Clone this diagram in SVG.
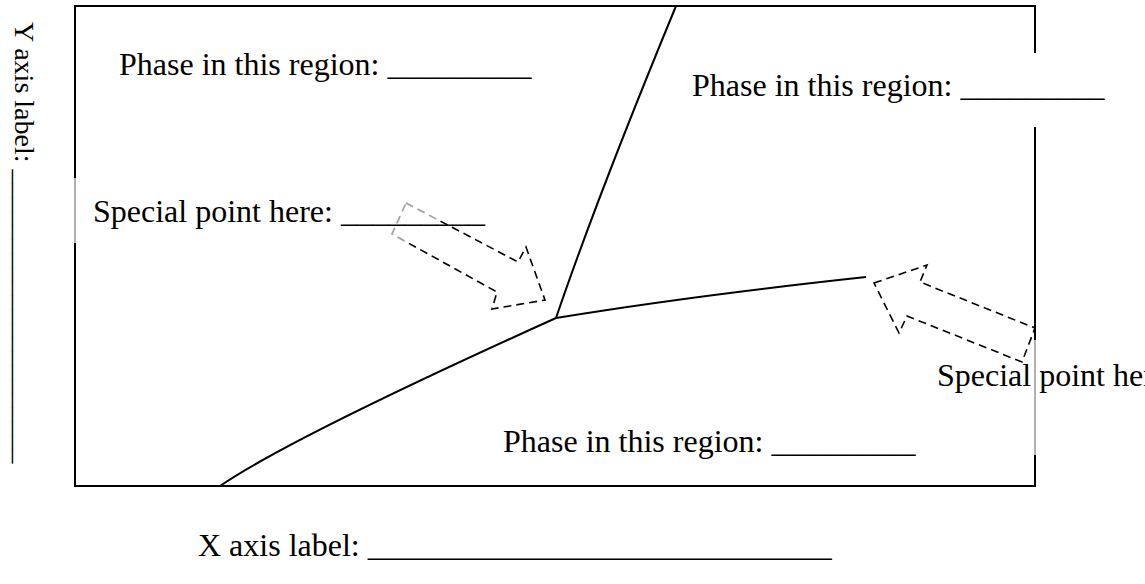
<svg xmlns="http://www.w3.org/2000/svg" width="1145" height="584" viewBox="0 0 1145 584">
<defs>
<style>
.t{font-family:"Liberation Serif","Times New Roman",serif;font-size:32px;fill:#000}
.ty{font-family:"Liberation Serif","Times New Roman",serif;font-size:28px;fill:#000}
.frame{stroke:#000;stroke-width:2;fill:none}
.frameg{stroke:#b0b0b0;stroke-width:2;fill:none}
.curve{stroke:#000;stroke-width:2;fill:none}
.arrow{stroke:#000;stroke-width:1.6;fill:none;stroke-dasharray:8 5}
.arrowg{stroke:#a0a0a0;stroke-width:1.6;fill:none;stroke-dasharray:8 5}
</style>
<clipPath id="fadeClip"><rect x="380" y="190" width="60" height="52"/></clipPath>
</defs>
<rect width="1145" height="584" fill="#fff"/>
<g id="frame">
<path class="frame" d="M75,178 V6 H1035 V53 M1035,127 V340 M1035,455 V486 H75 V243"/>
<path class="frameg" d="M75,178 V243 M1035,340 V455"/>
</g>
<g id="connectors">
<path class="curve" d="M220,486 Q290,438 556,318"/>
<path class="curve" d="M556,318 Q598,195 676,6"/>
<path class="curve" d="M556,318 Q690,296 866,277"/>
</g>
<g id="arrow-left">
<path class="arrow" d="M406,203 L518,262 L526,247 L545,300 L492,309 L497,292 L392,234 Z"/>
<path d="M406,203 L518,262 L526,247 L545,300 L492,309 L497,292 L392,234 Z" fill="none" stroke="#fff" stroke-width="2.5" clip-path="url(#fadeClip)"/>
<path class="arrowg" d="M406,203 L518,262 L526,247 L545,300 L492,309 L497,292 L392,234 Z" clip-path="url(#fadeClip)"/>
</g>
<g id="arrow-right">
<path class="arrow" d="M874,283 L927,265 L920,282 L1035,328 L1022,362 L907,316 L899,333 Z"/>
</g>
<g id="label-phase-1"><text class="t" x="119" y="75">Phase in this region: _________</text></g>
<g id="label-phase-2"><text class="t" x="692" y="96">Phase in this region: _________</text></g>
<g id="label-phase-3"><text class="t" x="503" y="452">Phase in this region: _________</text></g>
<g id="label-special-1"><text class="t" x="93" y="222">Special point here: _________</text></g>
<g id="label-special-2"><text class="t" x="937" y="386">Special point here: _________</text></g>
<g id="label-x"><text class="t" x="198" y="556">X axis label: _____________________________</text></g>
<g id="label-y"><text class="ty" transform="translate(15,22) rotate(90)" x="0" y="0">Y axis label: _____________________</text></g>
</svg>
